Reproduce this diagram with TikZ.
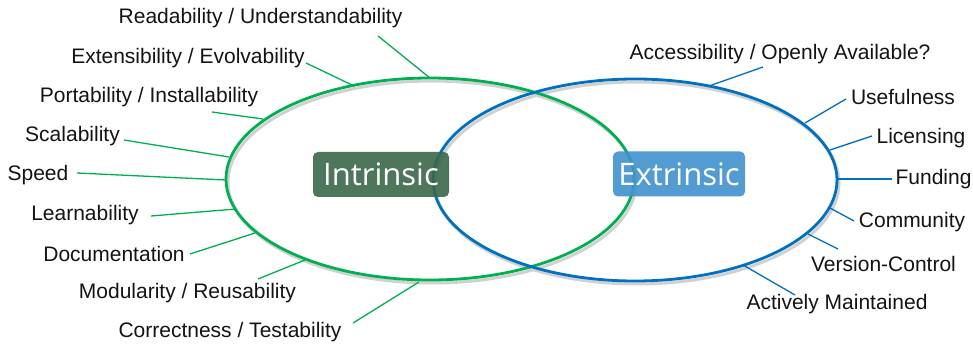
\documentclass[tikz,border=0pt]{standalone}
\usepackage{fontspec}
\setmainfont{Liberation Sans}
\newfontfamily\boxfont{Open Sans}
\definecolor{pgreen}{HTML}{00B050}
\definecolor{pblue}{HTML}{0070C0}
\definecolor{igreen}{HTML}{3A684A}
\definecolor{eblue}{HTML}{4192CE}
\begin{document}
\begin{tikzpicture}[x=1pt,y=-1pt,
  lab/.style={inner sep=0pt,font=\fontsize{21}{23}\selectfont,text=black!92,yshift=-1.5pt},
  gline/.style={draw=pgreen,line width=1.3pt},
  bline/.style={draw=pblue,line width=1.3pt},
  ring/.style={line width=2.8pt},
  shade/.style={line width=3pt,draw=black!18},
  tagbox/.style={rounded corners=5pt,minimum width=136pt,minimum height=45pt,inner sep=0pt,text=white,font=\boxfont\fontsize{31}{33}\selectfont,fill opacity=0.9,text opacity=1}]
\useasboundingbox (0,0) rectangle (973,347);
\fill[white] (0,0) rectangle (973,347);
% shadows
\draw[shade] (432,182) ellipse [x radius=204,y radius=101];
\draw[shade] (637,183) ellipse [x radius=202,y radius=101];
% ellipses
\draw[ring,pgreen] (430,179) ellipse [x radius=204,y radius=101];
\draw[ring,pblue] (635,180) ellipse [x radius=202,y radius=101];
% boxes
\node[tagbox,fill=igreen] (intr) at (381,174.5) {Intrinsic};
\node[tagbox,fill=eblue,minimum width=132pt] (extr) at (679,174) {Extrinsic};
% left labels
\node[lab] (l1) at (260.5,17) {Readability / Understandability};
\node[lab] (l2) at (188,57) {Extensibility / Evolvability};
\node[lab] (l3) at (149,96) {Portability / Installability};
\node[lab] (l4) at (72.5,135) {Scalability};
\node[lab] (l5) at (38,174) {Speed};
\node[lab] (l6) at (85,214) {Learnability};
\node[lab] (l7) at (114,252) {Documentation};
\node[lab] (l8) at (187.5,292) {Modularity / Reusability};
\node[lab] (l9) at (230,331) {Correctness / Testability};
% right labels
\node[lab] (r1) at (780,53) {Accessibility / Openly Available?};
\node[lab] (r2) at (903,95) {Usefulness};
\node[lab] (r3) at (921,137) {Licensing};
\node[lab] (r4) at (933.5,178) {Funding};
\node[lab] (r5) at (912,221) {Community};
\node[lab] (r6) at (883.5,262) {Version-Control};
\node[lab] (r7) at (837,303) {Actively Maintained};
% connector end points
\coordinate (a1) at (378,36);  \coordinate (b1) at (430,78);
\coordinate (a2) at (306,63);  \coordinate (b2) at (352,85);
\coordinate (a3) at (212,112); \coordinate (b3) at (263,119);
\coordinate (a4) at (124,140); \coordinate (b4) at (229,157);
\coordinate (a5) at (77,173);  \coordinate (b5) at (226,180);
\coordinate (a6) at (151,216); \coordinate (b6) at (236,209);
\coordinate (a7) at (190,254); \coordinate (b7) at (255,233);
\coordinate (a8) at (258,279); \coordinate (b8) at (305,260);
\coordinate (a9) at (353,323); \coordinate (b9) at (419,282);
\coordinate (c1) at (763,67);  \coordinate (d1) at (709,86);
\coordinate (c2) at (846,99);  \coordinate (d2) at (805,123);
\coordinate (c3) at (872,136); \coordinate (d3) at (830,150);
\coordinate (c4) at (892,179); \coordinate (d4) at (837,179);
\coordinate (c5) at (854,221); \coordinate (d5) at (830,208);
\coordinate (c6) at (838,249); \coordinate (d6) at (808,234);
\coordinate (c7) at (795,295); \coordinate (d7) at (743,265);
\foreach \i in {1,...,9} {\draw[gline] (a\i) -- (b\i);}
\foreach \i in {1,...,7} {\draw[bline] (c\i) -- (d\i);}
\end{tikzpicture}
\end{document}
